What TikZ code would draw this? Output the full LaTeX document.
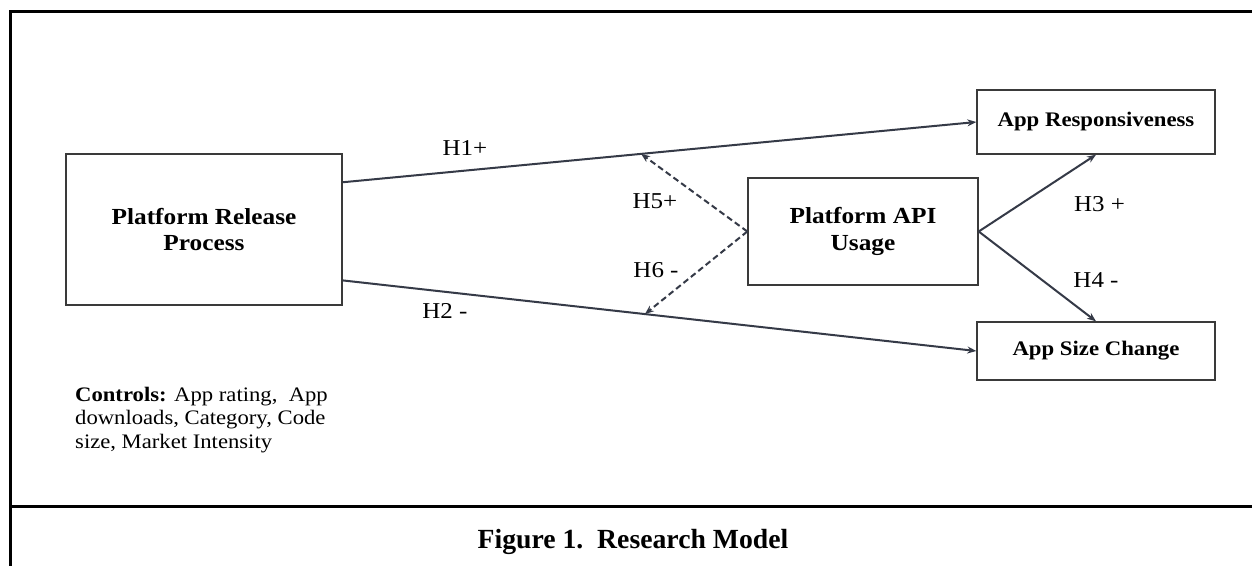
\documentclass[tikz,border=0pt]{standalone}
\usepackage{fontspec}
\setmainfont{Liberation Serif}
\newfontfamily\dfont[FakeStretch=1.1]{Liberation Serif}
\usetikzlibrary{arrows.meta,calc}
\definecolor{linec}{HTML}{353A47}
\definecolor{boxc}{HTML}{3A3A3A}
\begin{document}
\begin{tikzpicture}[x=1pt,y=-1pt,
  box/.style={draw=boxc,line width=1.4pt,inner sep=0pt,align=center},
  bigbox/.style={box,font=\dfont\bfseries\fontsize{23}{26.5}\selectfont},
  smallbox/.style={box,font=\dfont\bfseries\fontsize{20.7}{24}\selectfont},
  conn/.style={draw=linec,line width=2pt,-{Stealth[length=9pt,width=7pt]}},
  modconn/.style={conn,dash pattern=on 6pt off 3.5pt},
  hlab/.style={inner sep=0pt,font=\dfont\fontsize{22.7}{26}\selectfont},
  framel/.style={draw=black,line width=3pt}
]
\useasboundingbox (0,0) rectangle (1252,565);
\fill[white] (0,0) rectangle (1252,565);
% frame
\draw[framel] (10,567) -- (10,11) -- (1254,11);
\draw[framel] (10,506) -- (1254,506);
% boxes
\node[bigbox,minimum width=276pt,minimum height=151pt] (prp) at (204,229.5) {Platform Release\\Process};
\node[bigbox,minimum width=230pt,minimum height=107pt] (api) at (863,231.5) {Platform API\\Usage};
\node[smallbox,minimum width=238pt,minimum height=64pt] (resp) at (1096,122) {App Responsiveness};
\node[smallbox,minimum width=238pt,minimum height=58pt] (size) at (1096,351) {App Size Change};
% connectors
\draw[conn] ($(prp.north east)!0.19!(prp.south east)$) -- coordinate[pos=0.471] (m1) (resp.west);
\draw[conn] ($(prp.north east)!0.834!(prp.south east)$) -- coordinate[pos=0.477] (m2) (size.west);
\draw[conn] (api.east) -- (resp.south);
\draw[conn] (api.east) -- (size.north);
\draw[modconn] (api.west) -- (m1);
\draw[modconn] (api.west) -- (m2);
% labels
\node[hlab] (h1) at (465,148.5) {H1+};
\node[hlab] (h2) at (445,310.5) {H2 -};
\node[hlab] (h5) at (655,201.5) {H5+};
\node[hlab] (h6) at (656,270.5) {H6 -};
\node[hlab] (h3) at (1099.5,203.7) {H3 +};
\node[hlab] (h4) at (1096,280) {H4 -};
% controls
\node[inner sep=0pt,anchor=north west,align=left,font=\dfont\fontsize{20.6}{23.3}\selectfont] (ctrl) at (75,387)
  {\textbf{Controls:} App rating,\ \ App\\downloads, Category, Code\\size, Market Intensity};
% caption
\node[inner sep=0pt,anchor=base,font=\bfseries\fontsize{27.7}{32}\selectfont] (cap) at (633,548) {Figure 1.\ \ Research Model};
\end{tikzpicture}
\end{document}
